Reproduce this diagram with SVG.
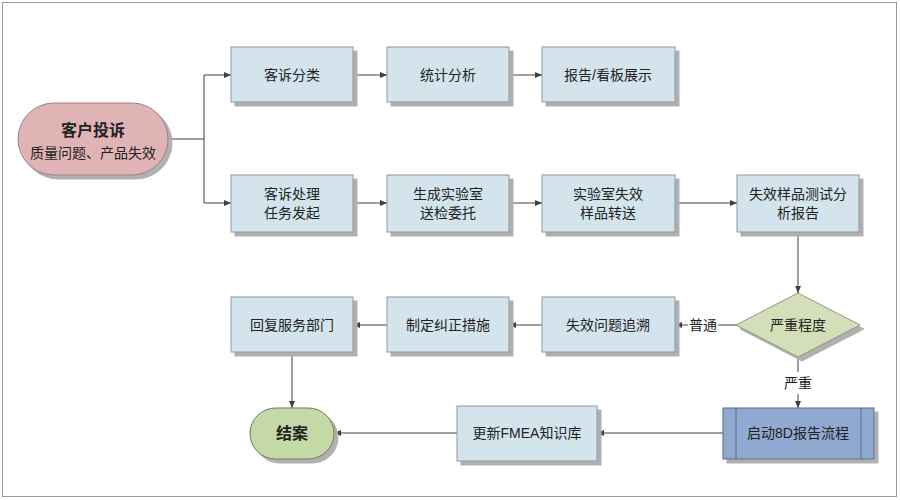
<svg xmlns="http://www.w3.org/2000/svg" width="900" height="500" viewBox="0 0 900 500">
<defs>
<marker id="ah" markerWidth="8" markerHeight="8" refX="7" refY="4" orient="auto" markerUnits="userSpaceOnUse"><path d="M0,1 L7,4 L0,7 Z" fill="#404040"/></marker>
<filter id="sh" x="-10%" y="-10%" width="130%" height="130%"><feOffset dx="4" dy="4" in="SourceAlpha" result="o"/><feFlood flood-color="#b0b0b0"/><feComposite in2="o" operator="in" result="s"/><feMerge><feMergeNode in="s"/><feMergeNode in="SourceGraphic"/></feMerge></filter>
</defs>
<style>
.b{fill:#d3e4ec;stroke:#8a9aa4;stroke-width:1;filter:url(#sh)}
.t{font-family:"Liberation Sans","Noto Sans CJK SC",sans-serif;font-size:14px;fill:#222;text-anchor:middle}
.c{stroke:#404040;stroke-width:1;fill:none;marker-end:url(#ah)}
.n{stroke:#404040;stroke-width:1;fill:none}
</style>
<rect x="2.5" y="2.5" width="894" height="494" fill="#fff" stroke="#999"/>
<g id="connectors">
<path class="n" d="M168,139 H204"/>
<path class="c" d="M204,139 V75 H231"/>
<path class="c" d="M204,139 V203 H231"/>
<path class="c" d="M353,75 H387"/>
<path class="c" d="M509,75 H542"/>
<path class="c" d="M353,203 H387"/>
<path class="c" d="M509,203 H542"/>
<path class="c" d="M675,203 H737"/>
<path class="c" d="M798,232 V293"/>
<path class="n" d="M736,325 H718"/>
<path class="c" d="M688,325 H675"/>
<path class="c" d="M542,325 H509"/>
<path class="c" d="M387,325 H353"/>
<path class="c" d="M292,352 V408"/>
<path class="n" d="M798,357 V372"/>
<path class="c" d="M798,394 V408"/>
<path class="c" d="M723,433 H597"/>
<path class="c" d="M457,433 H334"/>
<text class="t" x="703" y="330">普通</text>
<text class="t" x="798" y="388">严重</text>
</g>
<g id="start"><rect x="18" y="103" width="150" height="72" rx="36" fill="#e0b4b5" stroke="#9a8080" filter="url(#sh)"/>
<text class="t" x="93" y="136" style="font-size:16px;font-weight:bold">客户投诉</text><text class="t" x="93" y="158">质量问题、产品失效</text></g>
<g id="n1"><rect class="b" x="231" y="47" width="122" height="55"/><text class="t" x="292" y="80">客诉分类</text></g>
<g id="n2"><rect class="b" x="387" y="47" width="122" height="55"/><text class="t" x="448" y="80">统计分析</text></g>
<g id="n3"><rect class="b" x="542" y="47" width="133" height="55"/><text class="t" x="608" y="80">报告/看板展示</text></g>
<g id="n4"><rect class="b" x="231" y="175" width="122" height="57"/><text class="t" x="292" y="199">客诉处理</text><text class="t" x="292" y="218">任务发起</text></g>
<g id="n5"><rect class="b" x="387" y="175" width="122" height="57"/><text class="t" x="448" y="199">生成实验室</text><text class="t" x="448" y="218">送检委托</text></g>
<g id="n6"><rect class="b" x="542" y="175" width="133" height="57"/><text class="t" x="608" y="199">实验室失效</text><text class="t" x="608" y="218">样品转送</text></g>
<g id="n7"><rect class="b" x="737" y="175" width="122" height="57"/><text class="t" x="798" y="199">失效样品测试分</text><text class="t" x="798" y="218">析报告</text></g>
<g id="d1"><path d="M736,325 L798,293 L860,325 L798,357 Z" fill="#d4dfb9" stroke="#8a9a78" filter="url(#sh)"/><text class="t" x="798" y="330">严重程度</text></g>
<g id="n8"><rect class="b" x="542" y="297" width="133" height="55"/><text class="t" x="608" y="330">失效问题追溯</text></g>
<g id="n9"><rect class="b" x="387" y="297" width="122" height="55"/><text class="t" x="448" y="330">制定纠正措施</text></g>
<g id="n10"><rect class="b" x="231" y="297" width="122" height="55"/><text class="t" x="292" y="330">回复服务部门</text></g>
<g id="n11"><rect x="723" y="408" width="151" height="51" fill="#8fa9d0" stroke="#5a6a80" filter="url(#sh)"/><path d="M736,408 V459 M861,408 V459" stroke="#5a6a80"/><text class="t" x="798" y="438">启动8D报告流程</text></g>
<g id="n12"><rect class="b" x="457" y="406" width="140" height="55"/><text class="t" x="527" y="438">更新FMEA知识库</text></g>
<g id="end"><rect x="250" y="408" width="84" height="51" rx="25.5" fill="#c4d9a6" stroke="#6a7a5a" filter="url(#sh)"/><text class="t" x="292" y="439" style="font-size:16px;font-weight:bold">结案</text></g>
</svg>
